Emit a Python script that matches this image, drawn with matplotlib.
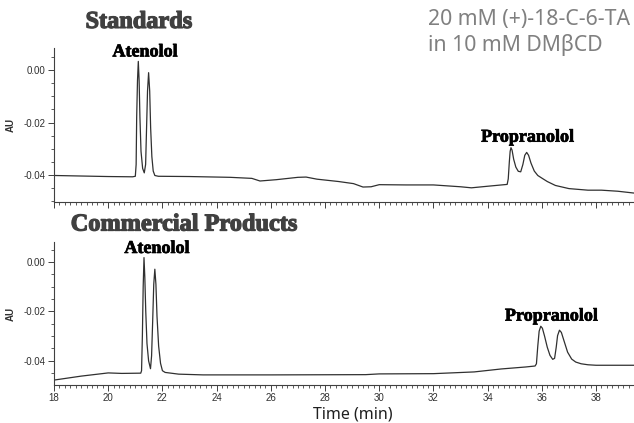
import matplotlib

matplotlib.use("Agg")
import matplotlib.pyplot as plt
import matplotlib.patheffects as pe
from matplotlib.ticker import AutoMinorLocator, FormatStrFormatter, MultipleLocator

plt.rcParams["axes.unicode_minus"] = False
plt.rcParams["font.family"] = ["Liberation Sans", "DejaVu Sans"]

# Standards run: time (min) and absorbance (AU)
std_time = [18.0, 19.0, 20.0, 20.9, 21.00, 21.03, 21.05, 21.08, 21.11, 21.14,
            21.17, 21.21, 21.27, 21.33, 21.38, 21.415, 21.45, 21.49, 21.53, 21.565,
            21.61, 21.66, 21.72, 21.85, 23.0, 24.5, 25.3, 25.6, 26.2, 27.0,
            27.3, 27.7, 28.5, 29.05, 29.4, 29.7, 30.0, 31.0, 32.0, 33.0,
            33.4, 34.0, 34.72, 34.76, 34.80, 34.83, 34.86, 34.90, 34.96, 35.04,
            35.13, 35.22, 35.30, 35.37, 35.44, 35.51, 35.60, 35.72, 35.85, 36.0,
            36.2, 36.5, 37.0, 37.7, 38.2, 38.8, 39.4]
std_au = [-0.0402, -0.0404, -0.0406, -0.0407, -0.0405, -0.036, -0.018, -0.004, 0.0033, -0.004,
          -0.018, -0.031, -0.0375, -0.0392, -0.036, -0.022, -0.008, -0.0010, -0.008, -0.022,
          -0.033, -0.0385, -0.0402, -0.0405, -0.0406, -0.0409, -0.0413, -0.0423, -0.0418, -0.0409,
          -0.0408, -0.0416, -0.0425, -0.0433, -0.0446, -0.0445, -0.0437, -0.0438, -0.0438, -0.0445,
          -0.0449, -0.0443, -0.0436, -0.0415, -0.035, -0.031, -0.0296, -0.0305, -0.034, -0.0370,
          -0.0386, -0.0388, -0.0360, -0.0325, -0.0314, -0.0325, -0.0355, -0.0385, -0.0402, -0.0412,
          -0.0425, -0.0440, -0.0452, -0.0458, -0.0458, -0.0462, -0.0469]

# Commercial products run
com_time = [18.0, 19.0, 20.0, 20.5, 21.20, 21.23, 21.26, 21.29, 21.32, 21.35,
            21.385, 21.43, 21.49, 21.56, 21.60, 21.64, 21.68, 21.72, 21.76, 21.80,
            21.86, 21.93, 22.00, 22.10, 22.6, 23.5, 26.0, 29.5, 30.0, 32.0,
            33.5, 34.5, 35.4, 35.75, 35.80, 35.85, 35.90, 35.96, 36.02, 36.10,
            36.20, 36.30, 36.40, 36.47, 36.53, 36.58, 36.65, 36.72, 36.82, 36.95,
            37.10, 37.25, 37.45, 37.7, 38.0, 39.4]
com_au = [-0.0478, -0.0462, -0.0449, -0.0451, -0.0450, -0.044, -0.030, -0.010, 0.0018, -0.006,
          -0.020, -0.033, -0.040, -0.0432, -0.038, -0.024, -0.009, -0.0029, -0.009, -0.022,
          -0.034, -0.041, -0.0440, -0.0447, -0.0454, -0.0457, -0.0457, -0.0456, -0.0453, -0.0452,
          -0.0445, -0.0433, -0.0425, -0.0421, -0.0412, -0.034, -0.028, -0.0260, -0.0268, -0.0300,
          -0.0345, -0.0378, -0.0394, -0.0390, -0.0345, -0.0298, -0.0276, -0.0285, -0.0320, -0.0365,
          -0.0393, -0.0405, -0.0412, -0.0416, -0.0418, -0.0418]

panel_titles = ["Standards", "Commercial Products"]
# (label, x, y) centre of each peak name in data coordinates
std_peaks = [("Atenolol", 21.35, 0.0069), ("Propranolol", 35.46, -0.0256)]
com_peaks = [("Atenolol", 21.79, 0.0055), ("Propranolol", 36.34, -0.0219)]
condition = "20 mM (+)-18-C-6-TA\nin 10 mM DMβCD"

fig = plt.figure(figsize=(6.34, 4.23), dpi=100)
ax1 = fig.add_axes([0.0852, 0.5225, 0.9148, 0.364])
ax2 = fig.add_axes([0.0852, 0.0898, 0.9148, 0.338])

panels = [
    (ax1, std_time, std_au, std_peaks, (-0.0503, 0.0084)),
    (ax2, com_time, com_au, com_peaks, (-0.0498, 0.0081)),
]
for ax, t, au, peaks, ylim in panels:
    ax.plot(t, au, color="#303030", lw=0.9)
    ax.set_xlim(18, 39.4)
    ax.set_ylim(*ylim)
    ax.spines["top"].set_visible(False)
    ax.spines["right"].set_visible(False)
    for s in ("left", "bottom"):
        ax.spines[s].set_linewidth(0.8)
        ax.spines[s].set_color("#404040")
    ax.xaxis.set_major_locator(MultipleLocator(2))
    ax.xaxis.set_minor_locator(AutoMinorLocator(10))
    ax.yaxis.set_major_locator(MultipleLocator(0.02))
    ax.yaxis.set_minor_locator(AutoMinorLocator(4))
    ax.yaxis.set_major_formatter(FormatStrFormatter("%.2f"))
    ax.tick_params(which="major", length=4, width=0.7, labelsize=7, pad=2,
                   color="#404040", labelcolor="#303030")
    ax.tick_params(which="minor", length=2, width=0.6, color="#404040")
    ax.set_ylabel("AU", fontsize=7, fontweight="bold", labelpad=6, color="#303030")
    for name, x, y in peaks:
        ax.text(x, y, name, ha="center", va="center", fontsize=13,
                fontweight="bold", family="Liberation Serif", color="black",
                path_effects=[pe.withStroke(linewidth=0.5, foreground="black")])

ax1.tick_params(axis="x", labelbottom=False)
ax2.set_xlabel("Time (min)", fontsize=11.5, family="Noto Sans", color="#202020")
ax2.xaxis.set_label_coords(0.516, -0.15)

heavy = [pe.withStroke(linewidth=0.9, foreground="#404040")]
fig.text(0.219, 0.947, panel_titles[0], ha="center", va="center", fontsize=17.5,
         fontweight="bold", family="Liberation Serif", color="#404040", path_effects=heavy)
fig.text(0.29, 0.468, panel_titles[1], ha="center", va="center", fontsize=17.5,
         fontweight="bold", family="Liberation Serif", color="#404040", path_effects=heavy)
fig.text(0.675, 0.979, condition, ha="left", va="top", fontsize=15.3,
         family="Noto Sans", color="#808080", linespacing=1.22)

fig.savefig("out.png", dpi=100)
